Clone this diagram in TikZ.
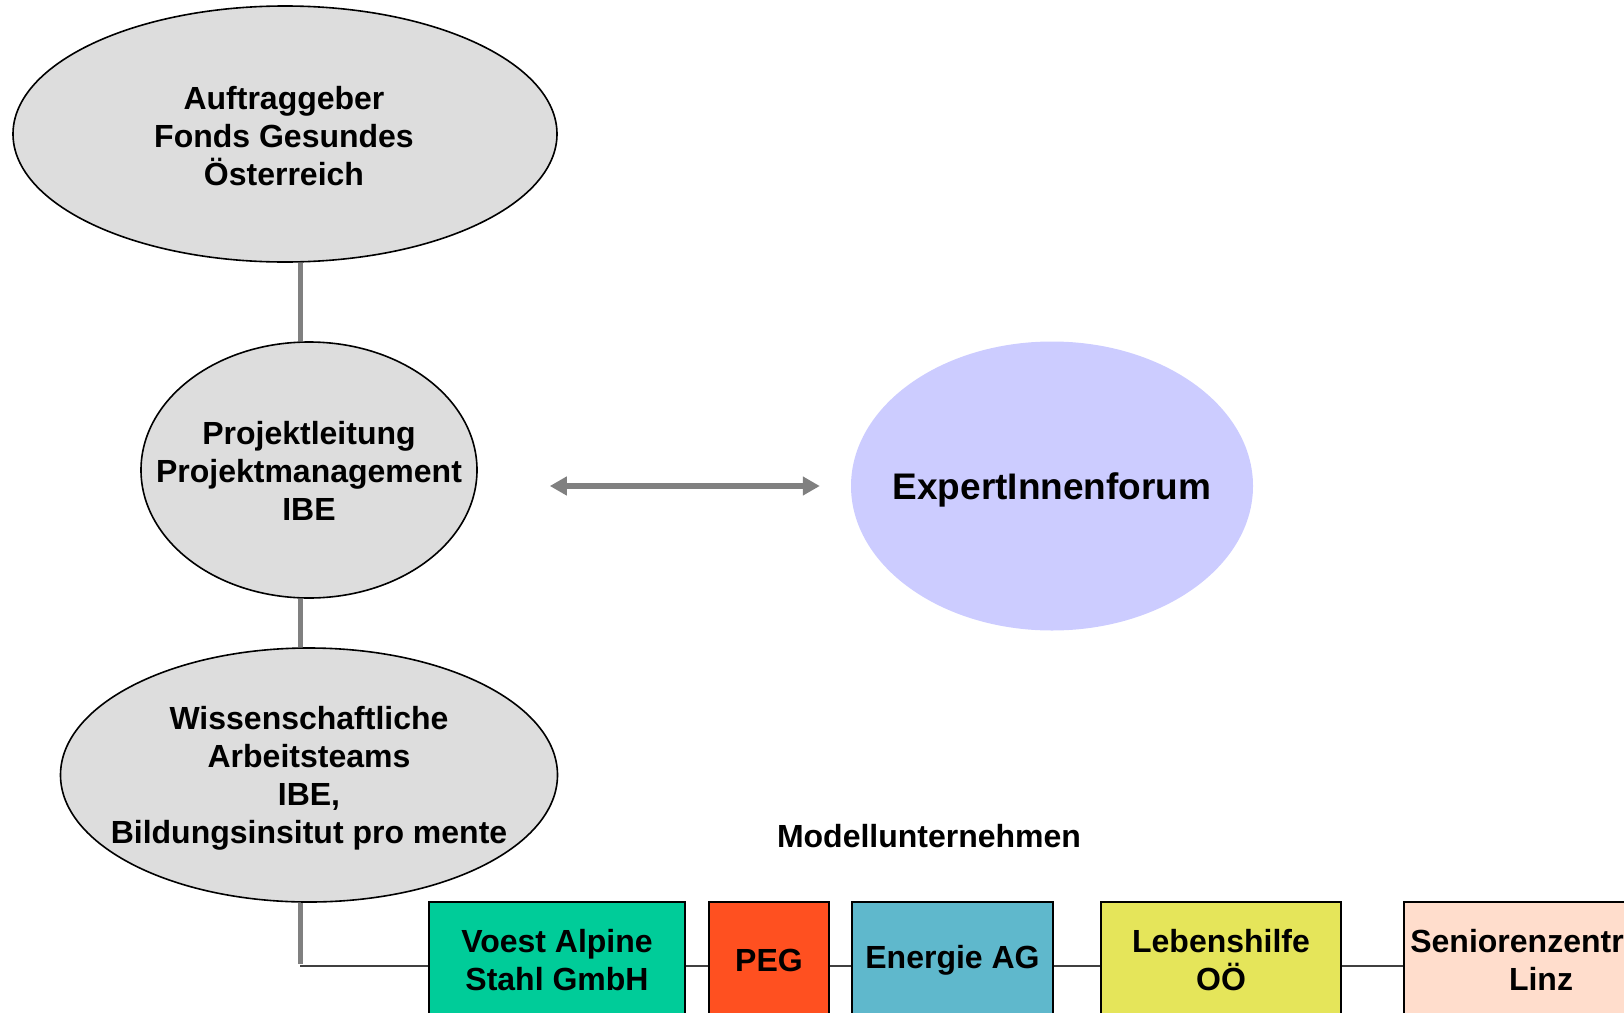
\documentclass[tikz,border=0pt]{standalone}
\usepackage{fontspec}
\setmainfont{Liberation Sans}
\usetikzlibrary{shapes.geometric,arrows.meta,backgrounds}
\definecolor{ellgray}{HTML}{DDDDDD}
\definecolor{trunkgray}{HTML}{808080}
\definecolor{expertblue}{HTML}{CCCCFF}
\definecolor{boxA}{HTML}{00CC99}
\definecolor{boxB}{HTML}{FF5020}
\definecolor{boxC}{HTML}{5FB8CC}
\definecolor{boxD}{HTML}{E5E55A}
\definecolor{boxE}{HTML}{FFDDCC}
\tikzset{
  ell/.style={ellipse, draw=black, line width=1.6pt, fill=ellgray, inner sep=0pt},
  lbl/.style={align=center, font=\fontsize{32}{38}\selectfont\bfseries, inner sep=0pt},
  firm/.style={draw=black, line width=2pt, minimum height=116pt, inner sep=0pt, align=center, font=\fontsize{32}{38}\selectfont\bfseries},
  trunk/.style={draw=trunkgray, line width=5pt},
  link/.style={draw=black!75, line width=2pt},
  biarrow/.style={draw=trunkgray, line width=6pt, {Triangle[width=18pt,length=17pt]}-{Triangle[width=18pt,length=17pt]}}
}
\begin{document}
\begin{tikzpicture}[x=1pt,y=-1pt]
\useasboundingbox (0,0) rectangle (1624,1012);
\clip (0,0) rectangle (1624,1012);
% ellipses
\node[ell, minimum width=544pt, minimum height=256pt] (e1) at (285,134) {};
\node[lbl] (e1t) at (284,136) {Auftraggeber\\Fonds Gesundes\\Österreich};
\node[ell, minimum width=336pt, minimum height=256pt] (e2) at (309,470) {};
\node[lbl] (e2t) at (309,471) {Projektleitung\\Projektmanagement\\IBE};
\node[ell, minimum width=497pt, minimum height=254pt] (e3) at (309,775) {};
\node[lbl] (e3t) at (309,778) {Wissenschaftliche\\Arbeitsteams\\IBE,\\Bildungsinsitut pro mente};
\node[ellipse, fill=expertblue, inner sep=0pt, minimum width=402pt, minimum height=289pt] (e4) at (1052,486) {};
\node[lbl, font=\fontsize{37}{44}\selectfont\bfseries] (e4t) at (1052,490) {ExpertInnenforum};
% title
\node[lbl] (mt) at (929,836) {Modellunternehmen};
% boxes
\node[firm, fill=boxA, minimum width=256pt] (b1) at (557,960) {Voest Alpine\\Stahl GmbH};
\node[firm, fill=boxB, minimum width=120pt] (b2) at (769,960) {PEG};
\node[firm, fill=boxC, minimum width=201pt] (b3) at (952.5,960) {Energie AG};
\node[firm, fill=boxD, minimum width=240pt] (b4) at (1221,960) {Lebenshilfe\\OÖ};
\node[firm, fill=boxE, minimum width=274pt] (b5) at (1541,960) {Seniorenzentrum\\Linz};
\coordinate (tr) at (300,0);
\coordinate (corner) at (300,966);
% connectors
\begin{scope}[on background layer]
\draw[trunk] (e1.south -| tr) -- (e2.north -| tr);
\draw[trunk] (e2.south -| tr) -- (e3.north -| tr);
\draw[trunk] (e3.south -| tr) -- ([yshift=2.5pt]corner);
\draw[link] (corner) -- ([yshift=-6pt]b1.west);
\draw[link] ([yshift=-6pt]b1.east) -- ([yshift=-6pt]b2.west);
\draw[link] ([yshift=-6pt]b2.east) -- ([yshift=-6pt]b3.west);
\draw[link] ([yshift=-6pt]b3.east) -- ([yshift=-6pt]b4.west);
\draw[link] ([yshift=-6pt]b4.east) -- ([yshift=-6pt]b5.west);
\end{scope}
\draw[biarrow, shorten <=72pt, shorten >=31pt] (e2.east |- e4.west) -- (e4.west);
\end{tikzpicture}
\end{document}
